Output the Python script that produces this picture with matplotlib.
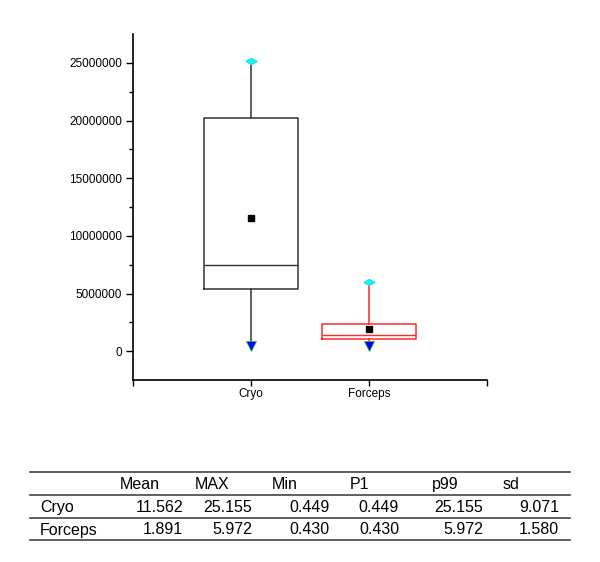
import matplotlib.pyplot as plt
from matplotlib.lines import Line2D

plt.rcParams['font.family'] = ['Liberation Sans', 'DejaVu Sans']

# Box statistics
groups = ["Cryo", "Forceps"]
q1 = [5420000, 1070000]
median = [7470000, 1360000]
q3 = [20200000, 2370000]
means = [11562000, 1891000]
mins = [449000, 430000]
maxs = [25155000, 5972000]
colors = ["#333333", "#ff2a2a"]

# Summary table (values in millions)
col_names = ["Mean", "MAX", "Min", "P1", "p99", "sd"]
table_vals = {
    "Cryo": [11.562, 25.155, 0.449, 0.449, 25.155, 9.071],
    "Forceps": [1.891, 5.972, 0.430, 0.430, 5.972, 1.580],
}

fig = plt.figure(figsize=(6, 5.62), dpi=100)
ax = fig.add_axes([133 / 600, 1 - 380 / 562, 354 / 600, 346 / 562])

# flattened diamond like the one used for the maximum
flat_diamond = [(-1, 0), (0, 0.55), (1, 0), (0, -0.55), (-1, 0)]

for i, g in enumerate(groups):
    st = [{"label": g, "q1": q1[i], "med": median[i], "q3": q3[i],
           "mean": means[i], "whislo": mins[i], "whishi": maxs[i], "fliers": []}]
    c = colors[i]
    ax.bxp(st, positions=[i + 1], widths=0.8, showcaps=False, showmeans=True,
           boxprops=dict(color=c, linewidth=1.1),
           whiskerprops=dict(color=c, linewidth=1.1),
           medianprops=dict(color=c, linewidth=1.0),
           meanprops=dict(marker="s", markerfacecolor="black", markeredgecolor="black",
                          markersize=4.5))
    ax.plot(i + 1, maxs[i], marker=flat_diamond, color="cyan", markeredgecolor="#33dddd",
            markersize=8, zorder=5)
    ax.plot(i + 1, mins[i], marker="v", color="blue", markeredgecolor="#22bb44",
            markeredgewidth=0.6, markersize=7, zorder=5)

ax.set_xlim(0, 3)
ax.set_ylim(-2500000, 27500000)
ax.set_xticks([0, 1, 2, 3])
ax.set_xticklabels(["", "Cryo", "Forceps", ""], fontsize=8.5)
ax.set_yticks(range(0, 25000001, 5000000))
ax.set_yticklabels([str(v) for v in range(0, 25000001, 5000000)], fontsize=8.5)
ax.set_yticks(range(2500000, 27500000, 5000000), minor=True)
ax.tick_params(axis="y", which="major", length=5, width=1, pad=3)
ax.tick_params(axis="y", which="minor", length=3, width=1)
ax.tick_params(axis="x", length=4, width=1, pad=2)
for s in ["top", "right"]:
    ax.spines[s].set_visible(False)
for s in ["left", "bottom"]:
    ax.spines[s].set_linewidth(1.2)


# Table under the chart, drawn in pixel positions converted to figure fractions
def fy(p):
    return 1 - p / 562


def fx(p):
    return p / 600


for yl in [472, 495, 518, 540]:
    fig.add_artist(Line2D([fx(30), fx(570)], [fy(yl), fy(yl)], color="#444444", linewidth=1.2))

head_x = [120, 195, 272, 350, 432, 503]
val_x = [183, 252, 330, 399, 483, 559]
for name, x in zip(col_names, head_x):
    fig.text(fx(x), fy(484.5), name, fontsize=11.5, ha="left", va="center")
for r, (row_name, vals) in enumerate(table_vals.items()):
    yc = fy(507.5 + 22.5 * r)
    fig.text(fx(40), yc, row_name, fontsize=11.5, ha="left", va="center")
    for v, x in zip(vals, val_x):
        fig.text(fx(x), yc, f"{v:.3f}", fontsize=11.5, ha="right", va="center")

fig.savefig("out.png", dpi=100)
